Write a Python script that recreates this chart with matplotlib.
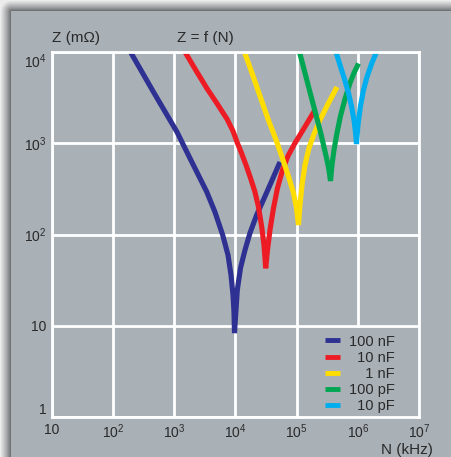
import numpy as np
import matplotlib
matplotlib.use("Agg")
import matplotlib.pyplot as plt
from matplotlib.patches import Rectangle

plt.rcParams['font.family'] = ['Liberation Sans', 'DejaVu Sans']
plt.rcParams['mathtext.fontset'] = 'custom'
plt.rcParams['mathtext.rm'] = 'Liberation Sans'
plt.rcParams['mathtext.it'] = 'Liberation Sans'

# curves: N in kHz, Z in mOhm
nf100_x = [192, 456, 1105, 1803, 3381, 4620, 6175, 7541, 8440, 9100, 9448, 9627,
           10190, 10700, 12070, 14300, 17260, 22200, 27110, 36640, 53380]
nf100_y = [10000, 3644, 1329, 684, 294, 176, 98.7, 59.6, 36.0, 21.7, 14.1, 8.3,
           14.9, 24.6, 42.9, 67.6, 104, 164, 221, 349, 623]

nf10_x = [1494, 2260, 3420, 4983, 7260, 9100, 10580, 12530, 14840, 17590, 20830, 23760,
          26800, 29230, 31160, 33340, 36640, 41790, 48590, 58650, 72130, 93890, 126900, 199300]
nf10_y = [10000, 6271, 3981, 2727, 1844, 1362, 1032, 782, 578, 416, 292, 200,
          122, 76.7, 42.6, 67.6, 112, 195, 323, 509, 725, 1006, 1397, 2314]

nf1_x = [14030, 18600, 25140, 33980, 46790, 59770, 74890, 88720, 99330, 107100,
         113300, 122200, 136800, 159000, 192000, 240600, 325200, 456200]
nf1_y = [10000, 5888, 3295, 1844, 1058, 655, 416, 285, 195, 127,
         210, 349, 578, 887, 1263, 1798, 2692, 4134]

pf100_x = [111200, 136800, 171500, 207000, 245200, 279600, 313100, 337600, 357300,
           378000, 407500, 456200, 520400, 616600, 744200, 865100, 1025000]
pf100_y = [10000, 5888, 3295, 2040, 1329, 910, 655, 509, 386,
           578, 843, 1295, 1989, 3053, 4574, 5888, 7482]

pf10_x = [439400, 510700, 605100, 703500, 787600, 865100, 915200, 950600,
          1006000, 1105000, 1237000, 1411000, 1672000, 2018000]
pf10_y = [10000, 7203, 5059, 3554, 2559, 1798, 1329, 981,
          1585, 2559, 3833, 5321, 7388, 10000]

labels = ["100 nF", "\u200710 nF", "\u2007\u20071 nF", "100 pF", "\u200710 pF"]
colors = ["#2e3192", "#ed1c24", "#ffdd00", "#00a651", "#00aeef"]

x_ticks = [1e1, 1e2, 1e3, 1e4, 1e5, 1e6, 1e7]
x_tick_labels = ["10", "$10^{2}$", "$10^{3}$", "$10^{4}$", "$10^{5}$", "$10^{6}$", "$10^{7}$"]
y_ticks = [1, 1e1, 1e2, 1e3, 1e4]
y_tick_labels = ["1", "10", "$10^{2}$", "$10^{3}$", "$10^{4}$"]

panel = "#a9b0b6"
txt = "#2a2a2a"

W, H = 452, 457
fig = plt.figure(figsize=(W / 100, H / 100), dpi=100)

# background with drop shadow on the top and left
bg = fig.add_axes([0, 0, 1, 1], zorder=-5)
yy, xx = np.mgrid[0:H, 0:W]
dx = np.clip(11 - xx, 0, None)
dy = np.clip(11 - yy, 0, None)
d = np.sqrt(dx ** 2 + dy ** 2)
t = np.clip(d / 11.0, 0, 1) ** 0.8
dark = np.array([0x5c, 0x5f, 0x62]) / 255
light = np.array([0xec, 0xec, 0xec]) / 255
img = dark[None, None, :] + (light - dark)[None, None, :] * t[..., None]
inside = (xx >= 11) & (yy >= 11)
img[inside] = np.array(matplotlib.colors.to_rgb(panel))
bg.imshow(img, extent=(0, W, H, 0), aspect='auto', interpolation='bilinear')
bg.set_axis_off()

ax = fig.add_axes([52 / W, 1 - 417 / H, 367 / W, 365 / H])
ax.set_facecolor(panel)
ax.set_xscale('log')
ax.set_yscale('log')
ax.set_xlim(10, 1e7)
ax.set_ylim(1, 1e4)
ax.minorticks_off()

ax.grid(True, color='white', linewidth=2)
ax.set_axisbelow(True)
for s in ax.spines.values():
    s.set_color('white')
    s.set_linewidth(2)

# legend area hides the grid below it
ax.add_patch(Rectangle((0.678, 0.0), 0.33, 0.243, transform=ax.transAxes,
                       facecolor=panel, edgecolor='none', zorder=1))

series = [(nf100_x, nf100_y), (nf10_x, nf10_y), (nf1_x, nf1_y), (pf100_x, pf100_y), (pf10_x, pf10_y)]
for (sx, sy), c, lab in zip(series, colors, labels):
    ax.plot(sx, sy, color=c, linewidth=3.7, label=lab, zorder=2,
            solid_capstyle='butt', solid_joinstyle='bevel')

ax.set_xticks(x_ticks)
ax.set_xticklabels(x_tick_labels)
ax.set_yticks(y_ticks)
ax.set_yticklabels(y_tick_labels)
ax.tick_params(length=0, labelsize=10, colors=txt, pad=4)
ylabs = ax.get_yticklabels()
ylabs[0].set_va('bottom')
ylabs[-1].set_va('top')

ax.text(0, 1.02, "Z (m\u03a9)", transform=ax.transAxes, fontsize=11, color=txt,
        ha='left', va='bottom')
ax.text(0.417, 1.02, "Z = f (N)", transform=ax.transAxes, fontsize=11, color=txt,
        ha='center', va='bottom')
ax.text(1.038, -0.11, "N (kHz)", transform=ax.transAxes, fontsize=11, color=txt,
        ha='right', va='bottom')

leg = ax.legend(loc='lower right', bbox_to_anchor=(0.934, 0.01), borderaxespad=0,
                frameon=False, fontsize=10.5, handlelength=1.03, handletextpad=0.62,
                labelspacing=0.15, borderpad=0, labelcolor=txt)
for ln in leg.get_lines():
    ln.set_linewidth(3.5)
    ln.set_solid_capstyle('butt')

fig.savefig("out.png", dpi=100)
